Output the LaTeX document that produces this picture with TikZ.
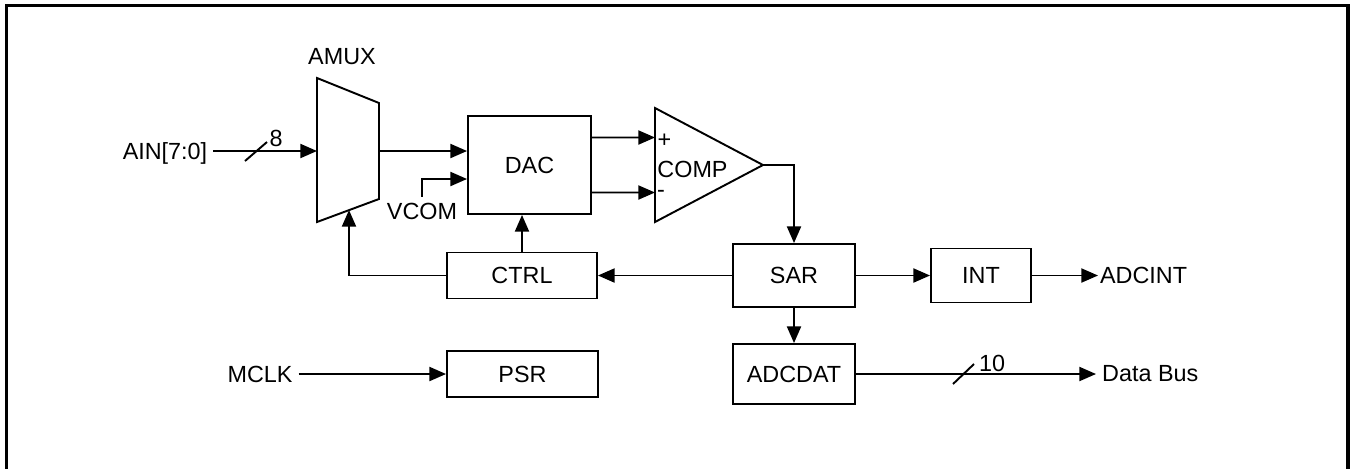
\documentclass[tikz,border=0pt]{standalone}
\usepackage{fontspec}
\setmainfont{Liberation Sans}
\usetikzlibrary{arrows.meta}

\tikzset{
  blk/.style={draw, line width=1.1pt, inner sep=0pt},
  wire/.style={line width=1.1pt},
  sig/.style={line width=1.1pt, -{Triangle[length=9.5pt,width=8pt]}}
}

\begin{document}
\begin{tikzpicture}[x=0.02cm, y=-0.02cm, font=\fontsize{13.3}{16}\selectfont]

\clip (0,0) rectangle (1351,468);

% frame
\draw[line width=1.8pt] (6.5,520) |- (1348,5.5) -- (1348,520);

% AMUX
\draw[wire, line join=miter] (317,78) -- (379,103) -- (379,199) -- (317,222) -- cycle;
\node (amuxlbl) at (342,57) {AMUX};
\coordinate (amuxin) at (317,151);
\coordinate (amuxout) at (379,151);
\coordinate (amuxsel) at (349,210);

% COMP
\draw[wire, line join=miter] (655,108) -- (763,165) -- (655,222) -- cycle;
\coordinate (compp) at (655,137.5);
\coordinate (compm) at (655,192.5);
\coordinate (compout) at (763,165);
\node[inner sep=0pt] (plus) at (664.5,140.5) {+};
\node[inner sep=0pt] (minus) at (661,194) {-};
\node[inner sep=0pt] (complbl) at (692.5,169) {COMP};

% blocks
\node[blk, minimum width=2.46cm, minimum height=1.96cm] (dac) at (529.5,165) {DAC};
\node[blk, minimum width=3.00cm, minimum height=0.92cm] (ctrl) at (522,275.5) {CTRL};
\node[blk, minimum width=2.44cm, minimum height=1.26cm] (sar) at (794,275.5) {SAR};
\node[blk, minimum width=2.00cm, minimum height=1.08cm] (int) at (981,275.5) {INT};
\node[blk, minimum width=2.44cm, minimum height=1.20cm] (adcdat) at (794,374) {ADCDAT};
\node[blk, minimum width=3.02cm, minimum height=0.92cm] (psr) at (522.5,374) {PSR};

% outside signals
\node[text depth=0pt] (ain) at (165,151) {AIN[7:0]};
\node (vcom) at (422,211) {VCOM};
\node (mclk) at (260,374) {MCLK};
\node[anchor=west, inner xsep=1pt] (adcint) at (1098,275.5) {ADCINT};
\node[anchor=west] (databus) at (1096,374) {Data Bus};

% connections
\draw[sig] (ain.east) -- (amuxin);
\draw[wire] (245,161) -- (267,142);
\node (w8) at (276,138) {8};

\draw[sig] (amuxout) -- (amuxout -| dac.west);
\draw[sig] (vcom.north) |- ([yshift=-0.28cm]dac.west);

\draw[sig] ([yshift=0.55cm]dac.east) -- (compp);
\draw[sig] ([yshift=-0.55cm]dac.east) -- (compm);

\draw[sig] (compout) -| (sar.north);
\draw[sig] (ctrl.north) -- (ctrl.north |- dac.south);
\draw[sig] (ctrl.west) -| (amuxsel);
\draw[sig] (sar.west) -- (ctrl.east);
\draw[sig] (sar.east) -- (int.west);
\draw[sig] (int.east) -- (adcint.west);
\draw[sig] (sar.south) -- (adcdat.north);

\draw[sig] (adcdat.east) -- (databus.west);
\draw[wire] (953,384) -- (974,364);
\node (w10) at (992,363.5) {10};

\draw[sig] (mclk.east) -- (psr.west);

\end{tikzpicture}
\end{document}
